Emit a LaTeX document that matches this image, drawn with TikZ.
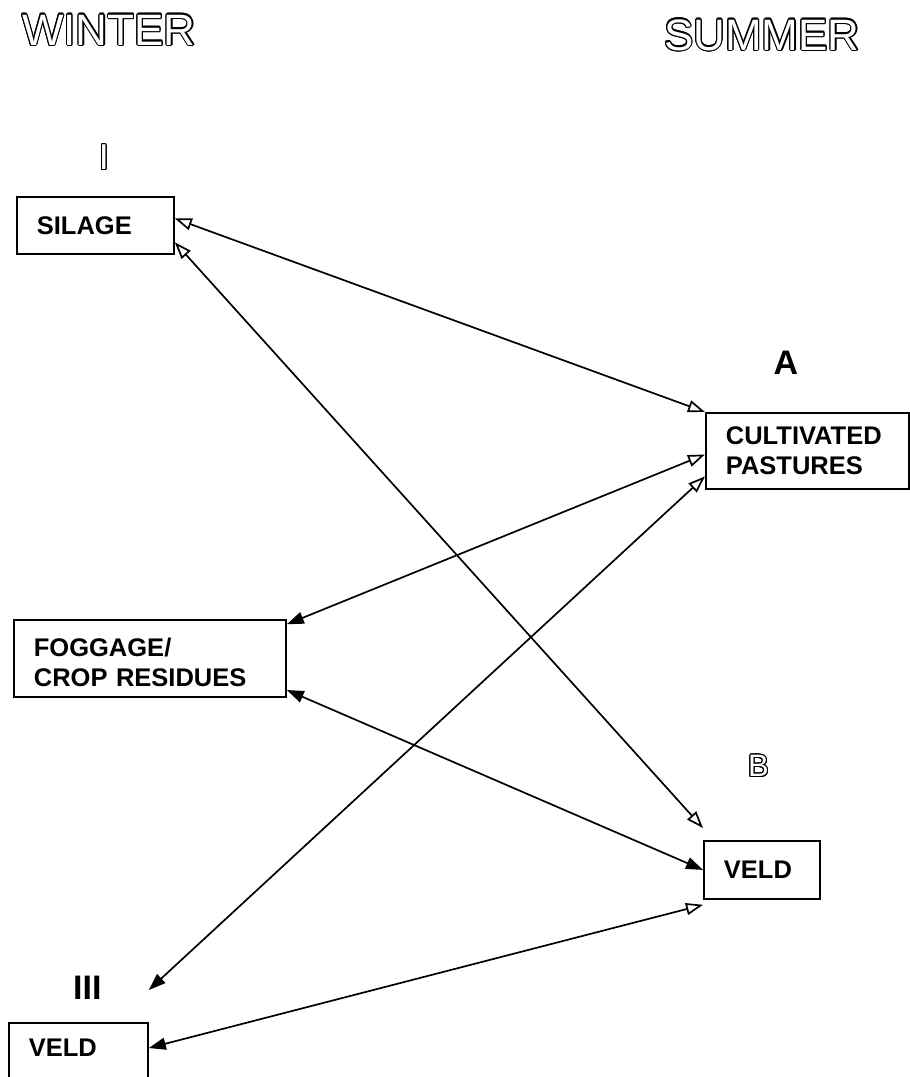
\documentclass[tikz,border=0pt]{standalone}
\usepackage{fontspec}
\setmainfont{Liberation Sans}
\usepackage[copies]{contour}
\usepackage{tikz}
\usetikzlibrary{arrows.meta, positioning}
\contourlength{1.1pt}
\newcommand{\cardfont}{\bfseries\fontsize{25.5}{30}\selectfont}
\newcommand{\outlined}[1]{\contour{black}{\textcolor{white}{#1}}}
\tikzset{
    card/.style={rectangle, anchor=north west, draw=black, line width=1.8pt, align=left, inner xsep=20pt, font=\cardfont},
    season/.style={anchor=base west, inner sep=0pt, font=\fontsize{44}{50}\selectfont},
    tag/.style={inner sep=0pt, font=\fontsize{34}{40}\selectfont\bfseries},
    link/.style={line width=1.7pt, draw=black},
    opentri/.tip={Triangle[open, length=17pt, width=12pt]},
    filltri/.tip={Triangle[length=17pt, width=12pt]}
}

\begin{document}
\begin{tikzpicture}[x=1pt, y=-1pt]
    \useasboundingbox (0,0) rectangle (910,1077);

    % Seasons
    \node (winter) [season] at (22,45) {\outlined{WINTER}};
    \node (summer) [season] at (664,50) {\outlined{SUMMER}};

    % Feed boxes
    \node (silage) [card, text width=117pt, minimum height=57pt] at (16,196) {SILAGE};
    \node (pastures) [card, text width=163pt, minimum height=76pt] at (705,412) {CULTIVATED\\PASTURES};
    \node (foggage) [card, text width=232pt, minimum height=77pt, text depth=22pt] at (13,619) {FOGGAGE/\\CROP RESIDUES};
    \node (veldB) [card, text width=76pt, minimum height=58pt] at (703,840) {VELD};
    \node (veldW) [card, text width=99pt, inner ysep=16pt, text depth=20pt] at (8,1022) {VELD};

    % Group labels
    \node (labI) [above=25pt of silage, xshift=8.5pt, inner sep=0pt, font=\fontsize{36}{40}\selectfont] {\outlined{I}};
    \node (labA) [tag, above=37pt of pastures, xshift=-21.5pt] {A};
    \node (labB) [above=62pt of veldB, xshift=-3.5pt, inner sep=0pt, font=\fontsize{31}{36}\selectfont] {\outlined{B}};
    \node (labIII) [tag, above=22pt of veldW, xshift=9pt] {III};

    % Arrows
    \draw [link, {opentri}-{opentri}] (silage.5) -- (pastures.north west);
    \draw [link, {opentri}-{opentri}] (silage.-12) -- ([yshift=12pt]veldB.north west);
    \draw [link, {filltri}-{opentri}] (foggage.14) -- (pastures.182);
    \draw [link, {filltri}-{filltri}] (foggage.-13) -- (veldB.west);
    \draw [link, {opentri}-{filltri}] (pastures.194) -- ([yshift=32pt]veldW.north east);
    \draw [link, {opentri}-{filltri}] ([yshift=-5pt]veldB.south west) -- ([yshift=-26pt]veldW.north east);
\end{tikzpicture}
\end{document}
